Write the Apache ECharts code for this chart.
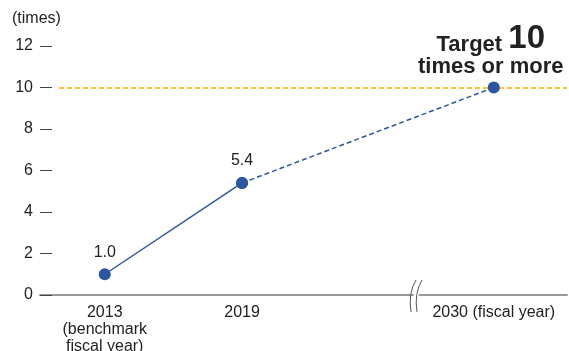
<!DOCTYPE html>
<html>
<head>
<meta charset="utf-8">
<script src="https://cdn.jsdelivr.net/npm/echarts@6/dist/echarts.min.js"></script>
<style>
  html, body { margin: 0; padding: 0; background: #fff; }
  #Chart1 { width: 569px; height: 351px; }
</style>
</head>
<body>
<div id="Chart1"></div>
<script>
const years = [2013, 2019, 2030];
const values = [1.0, 5.4, 10];
const xLabels = {
  2013: "2013\n(benchmark\nfiscal year)",
  2019: "2019",
  2030: "2030 (fiscal year)",
};
const target = 10;

const blue = "#2c569f";
const font = "Liberation Sans, Arial, sans-serif";

const myChart = echarts.init(document.getElementById("Chart1"));

const solidData = [[years[0], values[0]], [years[1], values[1]]];
const dashedData = [
  [years[1], values[1]],
  {
    value: [years[2], values[2]],
    label: {
      show: true,
      position: "top",
      offset: [-3, 1],
      formatter: "{a|Target }{b|10}\n{c|times or more}",
      rich: {
        a: { fontSize: 22, fontWeight: "bold", color: "#222", fontFamily: font, lineHeight: 30, verticalAlign: "bottom" },
        b: { fontSize: 33, fontWeight: "bold", color: "#222", fontFamily: font, lineHeight: 30, verticalAlign: "bottom" },
        c: { fontSize: 22, fontWeight: "bold", color: "#222", fontFamily: font, lineHeight: 22 },
      },
    },
  },
];

const option = {
  animation: false,
  grid: { left: 40, right: 2, top: 46, bottom: 56, outerBoundsMode: "none" },
  graphic: [
    {
      type: "text",
      left: 12,
      top: 11,
      style: { text: "(times)", font: "16px " + font, fill: "#222" },
    },
    {
      type: "polygon",
      z: 100,
      shape: { points: [[416, 281], [421, 281], [416, 312], [411, 312]] },
      style: { fill: "#fff" },
    },
    {
      type: "bezierCurve",
      z: 101,
      shape: { x1: 416, y1: 280, x2: 411, y2: 312, cpx1: 408, cpy1: 293 },
      style: { stroke: "#555", lineWidth: 1, fill: null },
    },
    {
      type: "bezierCurve",
      z: 101,
      shape: { x1: 422, y1: 280, x2: 417, y2: 312, cpx1: 414, cpy1: 293 },
      style: { stroke: "#555", lineWidth: 1, fill: null },
    },
  ],
  xAxis: {
    type: "value",
    min: 2010.17,
    max: 2033.2,
    axisLine: { show: true, lineStyle: { color: "#999", width: 2 } },
    axisTick: { show: false },
    splitLine: { show: false },
    axisLabel: {
      customValues: years,
      formatter: (v) => xLabels[v] || "",
      color: "#222",
      fontSize: 16,
      fontFamily: font,
      lineHeight: 17,
      margin: 9,
    },
  },
  yAxis: {
    type: "value",
    min: 0,
    max: 12,
    interval: 2,
    axisLine: { show: false },
    axisTick: { show: true, inside: true, length: 12, lineStyle: { color: "#444", width: 1 } },
    splitLine: { show: false },
    axisLabel: { color: "#222", fontSize: 16, fontFamily: font, margin: 7 },
  },
  series: [
    {
      type: "line",
      data: solidData,
      symbol: "circle",
      symbolSize: 12,
      itemStyle: { color: blue },
      lineStyle: { color: blue, width: 1.5 },
      label: {
        show: true,
        position: "top",
        distance: 8,
        formatter: (p) => p.value[1].toFixed(1),
        color: "#222",
        fontSize: 16,
        fontFamily: font,
      },
      z: 3,
    },
    {
      type: "line",
      data: dashedData,
      symbol: "circle",
      symbolSize: 12,
      itemStyle: { color: blue },
      lineStyle: { color: blue, width: 1.5, type: [5, 3] },
      label: { show: false },
      z: 3,
      markLine: {
        silent: true,
        z: 1,
        symbol: "none",
        label: { show: false },
        lineStyle: { color: "#f2b200", width: 1.5, type: [5, 3] },
        data: [[{ coord: [2011, target] }, { coord: [2033.2, target] }]],
      },
    },
  ],
};

myChart.setOption(option);
</script>
</body>
</html>
